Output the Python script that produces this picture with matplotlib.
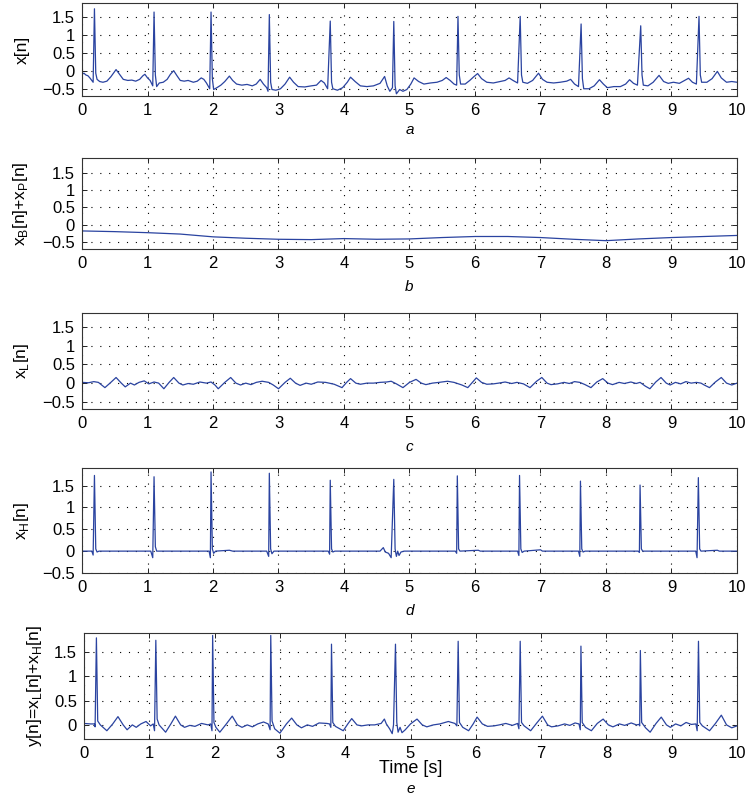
import matplotlib
matplotlib.use("Agg")
import matplotlib.pyplot as plt

plt.rcParams['font.family'] = ['Liberation Sans', 'DejaVu Sans']

# (time [s], value) vertices
sig_a = [
    (0.00, -0.08), (0.03, -0.05), (0.06, -0.10), (0.09, -0.12), (0.12, -0.18), (0.15, -0.25),
    (0.17, -0.30), (0.19, 1.73), (0.21, -0.05), (0.23, -0.22), (0.27, -0.28), (0.32, -0.30),
    (0.38, -0.27), (0.44, -0.15), (0.52, 0.05), (0.58, -0.10), (0.63, -0.22), (0.70, -0.25),
    (0.76, -0.24), (0.82, -0.27), (0.88, -0.22), (0.93, -0.12), (0.96, -0.08), (1.00, -0.18),
    (1.04, -0.25), (1.08, -0.40), (1.10, 1.64), (1.12, -0.10), (1.14, -0.42), (1.18, -0.32),
    (1.24, -0.30), (1.30, -0.22), (1.35, -0.08), (1.40, 0.02), (1.45, -0.12), (1.50, -0.25),
    (1.56, -0.27), (1.62, -0.25), (1.70, -0.30), (1.76, -0.27), (1.82, -0.18), (1.86, -0.22),
    (1.90, -0.32), (1.95, -0.48), (1.97, 1.64), (1.99, -0.20), (2.01, -0.50), (2.06, -0.45),
    (2.12, -0.38), (2.18, -0.28), (2.25, -0.13), (2.30, -0.25), (2.36, -0.35), (2.44, -0.38),
    (2.52, -0.36), (2.60, -0.40), (2.66, -0.35), (2.72, -0.22), (2.77, -0.35), (2.82, -0.45),
    (2.84, -0.55), (2.86, 1.57), (2.88, -0.30), (2.90, -0.50), (2.96, -0.52), (3.03, -0.48),
    (3.10, -0.35), (3.17, -0.16), (3.23, -0.30), (3.30, -0.42), (3.40, -0.43), (3.50, -0.40),
    (3.58, -0.38), (3.65, -0.25), (3.70, -0.32), (3.75, -0.48), (3.79, 1.39), (3.81, -0.30),
    (3.83, -0.48), (3.90, -0.52), (3.98, -0.45), (4.05, -0.30), (4.10, -0.16), (4.17, -0.28),
    (4.25, -0.40), (4.35, -0.42), (4.45, -0.40), (4.55, -0.33), (4.62, -0.14), (4.66, -0.40),
    (4.70, -0.55), (4.74, -0.45), (4.76, 1.38), (4.78, -0.40), (4.80, -0.62), (4.85, -0.50),
    (4.90, -0.55), (4.96, -0.50), (5.02, -0.35), (5.07, -0.18), (5.14, -0.28), (5.22, -0.35),
    (5.32, -0.32), (5.42, -0.30), (5.50, -0.25), (5.56, -0.17), (5.62, -0.25), (5.68, -0.35),
    (5.72, -0.38), (5.74, 1.52), (5.76, -0.10), (5.78, -0.35), (5.85, -0.35), (5.92, -0.25),
    (5.98, -0.15), (6.04, -0.06), (6.10, -0.20), (6.18, -0.30), (6.28, -0.32), (6.38, -0.28),
    (6.46, -0.25), (6.52, -0.18), (6.58, -0.25), (6.65, -0.32), (6.69, 1.52), (6.71, -0.10),
    (6.73, -0.30), (6.80, -0.33), (6.88, -0.25), (6.97, -0.05), (7.03, -0.22), (7.10, -0.30),
    (7.20, -0.32), (7.30, -0.30), (7.40, -0.27), (7.46, -0.22), (7.52, -0.35), (7.58, -0.42),
    (7.62, 1.31), (7.64, -0.20), (7.66, -0.48), (7.74, -0.48), (7.82, -0.40), (7.90, -0.23),
    (7.96, -0.35), (8.02, -0.45), (8.12, -0.42), (8.22, -0.42), (8.30, -0.35), (8.36, -0.23),
    (8.42, -0.33), (8.48, -0.38), (8.53, 1.26), (8.55, -0.10), (8.57, -0.38), (8.64, -0.40),
    (8.72, -0.30), (8.81, -0.11), (8.88, -0.28), (8.95, -0.33), (9.03, -0.30), (9.12, -0.33),
    (9.20, -0.25), (9.26, -0.19), (9.32, -0.30), (9.38, -0.35), (9.42, 1.52), (9.44, -0.10),
    (9.46, -0.30), (9.54, -0.30), (9.62, -0.20), (9.70, 0.00), (9.76, -0.18), (9.84, -0.30),
    (9.92, -0.28), (10.00, -0.30),
]

sig_b = [
    (0.0, -0.18), (0.5, -0.20), (1.0, -0.23), (1.5, -0.27), (2.0, -0.35), (2.5, -0.39),
    (3.0, -0.42), (3.5, -0.43), (4.0, -0.40), (4.5, -0.42), (5.0, -0.41), (5.5, -0.37),
    (6.0, -0.34), (6.5, -0.34), (7.0, -0.37), (7.5, -0.42), (8.0, -0.46), (8.5, -0.41),
    (9.0, -0.37), (9.5, -0.34), (10.0, -0.31),
]

sig_c = [
    (0.00, 0.02), (0.10, 0.01), (0.18, 0.04), (0.25, 0.02), (0.35, -0.12), (0.44, 0.02),
    (0.52, 0.15), (0.60, 0.00), (0.66, -0.10), (0.74, 0.00), (0.80, -0.05), (0.87, 0.02),
    (0.95, 0.06), (1.02, -0.02), (1.10, 0.03), (1.17, 0.00), (1.25, -0.15), (1.33, 0.02),
    (1.40, 0.15), (1.48, 0.00), (1.54, -0.05), (1.62, -0.01), (1.70, -0.03), (1.80, 0.03),
    (1.90, 0.00), (1.97, 0.03), (2.03, -0.05), (2.08, -0.15), (2.18, 0.02), (2.27, 0.15),
    (2.35, 0.00), (2.42, -0.05), (2.50, 0.00), (2.58, -0.04), (2.66, 0.02), (2.75, 0.05),
    (2.85, 0.02), (2.92, -0.05), (3.00, -0.15), (3.10, 0.02), (3.18, 0.13), (3.26, 0.00),
    (3.33, -0.06), (3.42, 0.00), (3.50, -0.03), (3.60, 0.03), (3.72, 0.02), (3.85, -0.03),
    (3.97, -0.12), (4.04, 0.02), (4.10, 0.12), (4.18, 0.00), (4.25, -0.03), (4.35, 0.00),
    (4.45, 0.00), (4.55, 0.02), (4.65, 0.03), (4.72, 0.05), (4.80, -0.02), (4.90, -0.12),
    (5.00, 0.02), (5.10, 0.10), (5.18, 0.00), (5.25, -0.04), (5.35, 0.00), (5.45, 0.02),
    (5.58, 0.05), (5.68, 0.02), (5.80, -0.05), (5.89, -0.12), (5.96, 0.02), (6.02, 0.14),
    (6.10, 0.02), (6.18, -0.03), (6.28, -0.02), (6.36, 0.00), (6.46, 0.03), (6.56, -0.01),
    (6.64, 0.02), (6.74, -0.02), (6.84, -0.12), (6.94, 0.05), (7.02, 0.15), (7.10, 0.00),
    (7.16, -0.04), (7.26, -0.02), (7.36, 0.02), (7.44, -0.01), (7.52, 0.04), (7.60, 0.02),
    (7.68, -0.04), (7.77, -0.12), (7.86, 0.03), (7.95, 0.12), (8.03, 0.00), (8.10, -0.04),
    (8.20, 0.02), (8.28, -0.01), (8.38, 0.03), (8.46, -0.01), (8.52, 0.02), (8.60, -0.08),
    (8.67, -0.15), (8.76, 0.03), (8.84, 0.15), (8.92, 0.00), (8.98, -0.05), (9.06, 0.02),
    (9.14, -0.02), (9.22, 0.04), (9.30, 0.00), (9.38, 0.02), (9.45, 0.00), (9.50, -0.05),
    (9.58, -0.12), (9.67, 0.03), (9.76, 0.15), (9.84, 0.00), (9.92, -0.05), (10.00, 0.00),
]

sig_d = [
    (0.00, 0.00), (0.15, 0.00), (0.17, -0.09), (0.19, 1.73), (0.21, 0.05), (0.23, -0.02),
    (0.26, 0.00), (1.05, 0.00), (1.08, -0.15), (1.10, 1.70), (1.12, 0.10), (1.14, 0.00),
    (1.94, 0.00), (1.96, -0.15), (1.97, 1.81), (1.99, 0.05), (2.01, -0.05), (2.04, 0.00),
    (2.25, 0.02), (2.30, 0.00), (2.82, 0.00), (2.85, -0.12), (2.86, 1.78), (2.88, 0.05),
    (2.90, -0.06), (2.93, 0.00), (3.76, 0.00), (3.78, -0.07), (3.79, 1.62), (3.81, 0.05),
    (3.83, -0.02), (3.86, 0.00), (4.55, 0.00), (4.60, 0.08), (4.63, -0.02), (4.68, -0.05),
    (4.72, -0.15), (4.76, 1.64), (4.78, 0.05), (4.80, -0.12), (4.82, 0.00), (4.84, -0.10),
    (4.87, -0.02), (4.92, 0.00), (5.70, 0.00), (5.72, -0.05), (5.73, 1.72), (5.75, 0.05),
    (5.77, 0.00), (6.05, 0.02), (6.08, 0.00), (6.65, 0.00), (6.67, -0.10), (6.68, 1.73),
    (6.70, 0.05), (6.72, -0.03), (6.75, 0.00), (7.00, 0.03), (7.03, 0.00), (7.58, 0.00),
    (7.60, -0.12), (7.61, 1.60), (7.63, 0.05), (7.65, -0.02), (7.68, 0.00), (8.49, 0.00),
    (8.51, -0.03), (8.52, 1.51), (8.54, 0.05), (8.56, 0.00), (9.37, 0.00), (9.39, -0.15),
    (9.41, 1.68), (9.43, 0.05), (9.45, 0.00), (9.70, 0.02), (9.73, 0.00), (10.00, 0.00),
]

sig_e = [
    (0.00, 0.03), (0.10, 0.02), (0.16, 0.02), (0.17, -0.04), (0.19, 1.79), (0.21, 0.08),
    (0.25, 0.00), (0.35, -0.12), (0.44, 0.02), (0.52, 0.17), (0.60, 0.00), (0.66, -0.10),
    (0.74, 0.00), (0.80, -0.05), (0.87, 0.02), (0.95, 0.07), (1.02, -0.02), (1.06, 0.02),
    (1.08, -0.12), (1.10, 1.74), (1.12, 0.12), (1.15, 0.00), (1.25, -0.15), (1.33, 0.02),
    (1.40, 0.18), (1.48, 0.00), (1.54, -0.05), (1.62, -0.01), (1.70, -0.03), (1.80, 0.03),
    (1.90, 0.00), (1.94, 0.02), (1.96, -0.12), (1.97, 1.84), (1.99, 0.05), (2.02, -0.05),
    (2.08, -0.15), (2.18, 0.02), (2.27, 0.18), (2.35, 0.00), (2.42, -0.05), (2.50, 0.00),
    (2.58, -0.04), (2.66, 0.02), (2.75, 0.06), (2.82, 0.02), (2.85, -0.10), (2.86, 1.84),
    (2.88, 0.08), (2.92, -0.08), (3.00, -0.17), (3.10, 0.02), (3.18, 0.14), (3.26, 0.00),
    (3.33, -0.06), (3.42, 0.00), (3.50, -0.03), (3.60, 0.04), (3.72, 0.03), (3.76, 0.02),
    (3.78, -0.05), (3.79, 1.66), (3.81, 0.05), (3.85, -0.03), (3.97, -0.12), (4.04, 0.02),
    (4.10, 0.13), (4.18, 0.00), (4.25, -0.02), (4.35, 0.00), (4.45, 0.00), (4.55, 0.03),
    (4.60, 0.12), (4.63, 0.02), (4.68, -0.08), (4.72, -0.18), (4.74, 0.00), (4.77, 1.66),
    (4.79, 0.05), (4.81, -0.15), (4.84, -0.05), (4.87, -0.16), (4.92, -0.10), (5.00, 0.02),
    (5.10, 0.12), (5.18, 0.00), (5.25, -0.04), (5.35, 0.00), (5.45, 0.02), (5.58, 0.07),
    (5.68, 0.03), (5.71, -0.02), (5.73, 1.72), (5.75, 0.05), (5.80, -0.05), (5.89, -0.12),
    (5.96, 0.02), (6.02, 0.16), (6.10, 0.02), (6.18, -0.03), (6.28, -0.02), (6.36, 0.00),
    (6.46, 0.03), (6.56, -0.01), (6.64, 0.03), (6.66, -0.08), (6.68, 1.72), (6.70, 0.05),
    (6.74, -0.02), (6.84, -0.12), (6.94, 0.05), (7.02, 0.18), (7.10, 0.00), (7.16, -0.04),
    (7.26, -0.02), (7.36, 0.02), (7.44, -0.01), (7.52, 0.04), (7.58, 0.02), (7.60, -0.10),
    (7.61, 1.62), (7.63, 0.05), (7.68, -0.05), (7.77, -0.12), (7.86, 0.03), (7.95, 0.12),
    (8.03, 0.00), (8.10, -0.04), (8.20, 0.02), (8.28, -0.01), (8.38, 0.04), (8.46, 0.00),
    (8.50, 0.01), (8.51, -0.02), (8.52, 1.53), (8.54, 0.05), (8.60, -0.06), (8.67, -0.15),
    (8.76, 0.03), (8.84, 0.16), (8.92, 0.00), (8.98, -0.05), (9.06, 0.02), (9.14, -0.02),
    (9.22, 0.05), (9.30, 0.01), (9.37, 0.02), (9.39, -0.12), (9.41, 1.72), (9.43, 0.05),
    (9.47, -0.02), (9.58, -0.12), (9.67, 0.03), (9.76, 0.20), (9.84, 0.00), (9.92, -0.06),
    (10.00, -0.02),
]

ylabels = ['x[n]', r'x$_\mathregular{B}$[n]+x$_\mathregular{P}$[n]', r'x$_\mathregular{L}$[n]',
           r'x$_\mathregular{H}$[n]', r'y[n]=x$_\mathregular{L}$[n]+x$_\mathregular{H}$[n]']
letters = ['a', 'b', 'c', 'd', 'e']
xticks = list(range(0, 11))
yticks_full = [-0.5, 0, 0.5, 1, 1.5]
yticks_e = [0, 0.5, 1, 1.5]

# axes boxes in pixels: (top, bottom)
W, H = 750, 799
boxes = [(3, 96), (158, 249), (313, 409), (468, 573), (633, 739)]
lefts = [82, 82, 82, 82, 84]
ylims = [(-0.68, 1.89), (-0.70, 1.92), (-0.69, 1.87), (-0.5, 1.9), (-0.29, 1.89)]
label_x = [-0.080, -0.080, -0.078, -0.078, -0.062]
# baseline offset (points) of the panel letters below each axes
letter_off = [-27, -30, -30, -30, -39]

fig = plt.figure(figsize=(7.5, 7.99), dpi=100)
line_color = '#2a43a0'

for i, sig in enumerate([sig_a, sig_b, sig_c, sig_d, sig_e]):
    top, bot = boxes[i]
    left = lefts[i]
    ax = fig.add_axes([left / W, 1 - bot / H, (737 - left) / W, (bot - top) / H])
    t = [p[0] for p in sig]
    v = [p[1] for p in sig]
    ax.plot(t, v, color=line_color, lw=0.9)
    ax.set_xlim(0, 10)
    ax.set_ylim(*ylims[i])
    ax.set_xticks(xticks)
    ax.set_xticklabels([str(x) for x in xticks])
    yt = yticks_e if i == 4 else yticks_full
    ax.set_yticks(yt)
    ax.set_yticklabels(['\u22120.5' if y == -0.5 else ('%g' % y) for y in yt])
    ax.grid(True, color='black', linestyle=(0, (1, 7)), lw=0.8)
    ax.tick_params(direction='in', top=True, right=True, length=3.5, width=0.7,
                   labelsize=12, pad=5, color='#222222')
    for s in ax.spines.values():
        s.set_linewidth(0.8)
        s.set_color('#333333')
    ax.set_ylabel(ylabels[i], fontsize=12.5)
    ax.yaxis.set_label_coords(label_x[i], 0.5)
    if i == 4:
        ax.set_xlabel('Time [s]', fontsize=13)
        ax.xaxis.set_label_coords(0.5, -0.2)
    ax.annotate(letters[i], xy=(0.5, 0), xycoords='axes fraction',
                xytext=(0, letter_off[i]), textcoords='offset points',
                ha='center', va='baseline', fontsize=11, fontstyle='italic')

fig.savefig('out.png', dpi=100)
